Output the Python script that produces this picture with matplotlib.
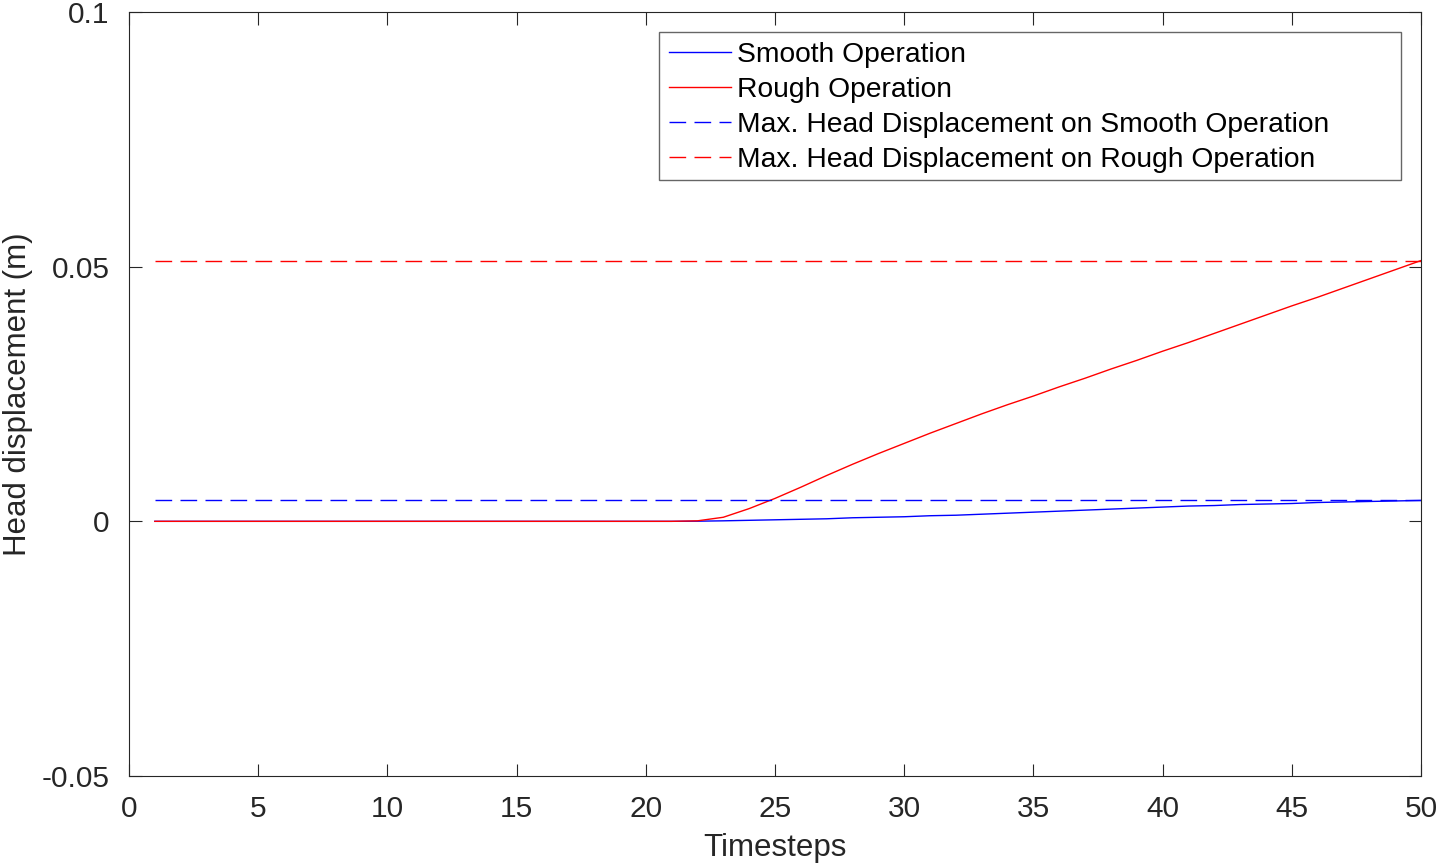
import matplotlib
matplotlib.use("Agg")
import matplotlib.pyplot as plt
from matplotlib.patches import Rectangle

timesteps = list(range(1, 51))
smooth = [0.0]*21 + [0.00003, 0.0001, 0.0002, 0.0003, 0.0004, 0.0005, 0.0007, 0.0008, 0.0009,
                     0.0011, 0.0012, 0.0014, 0.0016, 0.0018, 0.0020, 0.0022, 0.0024, 0.0026,
                     0.0028, 0.0030, 0.0031, 0.0033, 0.0034, 0.0035, 0.0037, 0.0038, 0.0039,
                     0.0040, 0.0041]
rough = [0.0]*21 + [0.0001, 0.0008, 0.0025, 0.0045, 0.0067, 0.0090, 0.0112, 0.0133, 0.0153,
                    0.0173, 0.0192, 0.0211, 0.0229, 0.0246, 0.0264, 0.0281, 0.0299, 0.0316,
                    0.0334, 0.0351, 0.0369, 0.0387, 0.0405, 0.0423, 0.0440, 0.0458, 0.0476,
                    0.0494, 0.0512]
max_smooth = max(smooth)
max_rough = max(rough)

x_ticks = list(range(0, 51, 5))
y_ticks = [-0.05, 0, 0.05, 0.1]
y_tick_labels = ["-0.05", "0", "0.05", "0.1"]

W, H = 1436, 865
plt.rcParams['font.family'] = ['Liberation Sans', 'DejaVu Sans']
fig = plt.figure(figsize=(W/100, H/100), dpi=100)
ax = fig.add_axes([129/W, (H-776)/H, (1421-129)/W, (776-12)/H])

ax.plot(timesteps, smooth, color=(0, 0, 1), lw=1, label="Smooth Operation")
ax.plot(timesteps, rough, color=(1, 0, 0), lw=1, label="Rough Operation")
ax.plot([timesteps[0], timesteps[-1]], [max_smooth, max_smooth], color=(0, 0, 1), lw=1,
        dashes=(12, 6), label="Max. Head Displacement on Smooth Operation")
ax.plot([timesteps[0], timesteps[-1]], [max_rough, max_rough], color=(1, 0, 0), lw=1,
        dashes=(12, 6), label="Max. Head Displacement on Rough Operation")

ax.set_xlim(0, 50)
ax.set_ylim(-0.05, 0.1)
ax.set_xticks(x_ticks)
ax.set_yticks(y_ticks)
ax.set_yticklabels(y_tick_labels)
ax.tick_params(direction='in', length=9, width=0.8, top=True, right=True,
               labelsize=21.5, colors='#262626', pad=14)
for s in ax.spines.values():
    s.set_color('#262626')
    s.set_linewidth(0.8)
ax.set_xlabel("Timesteps", fontsize=22.5, color='#262626', labelpad=7)
ax.set_ylabel("Head displacement (m)", fontsize=22.5, color='#262626', labelpad=6)

# legend frame (MATLAB style, wide right margin)
frame = Rectangle((659/W, (H-180)/H), (1401-659)/W, (180-32)/H,
                  transform=fig.transFigure, facecolor='white',
                  edgecolor='#666666', lw=1.0, zorder=5, clip_on=False)
ax.add_artist(frame)
leg = ax.legend(loc='upper left', bbox_to_anchor=(659/W, 1-32/H),
                bbox_transform=fig.transFigure, fontsize=20.3, frameon=False,
                handlelength=2.2, handletextpad=0.2,
                borderpad=0.35, labelspacing=0.32, borderaxespad=0)
leg.set_zorder(6)

fig.savefig("out.png", dpi=100)
